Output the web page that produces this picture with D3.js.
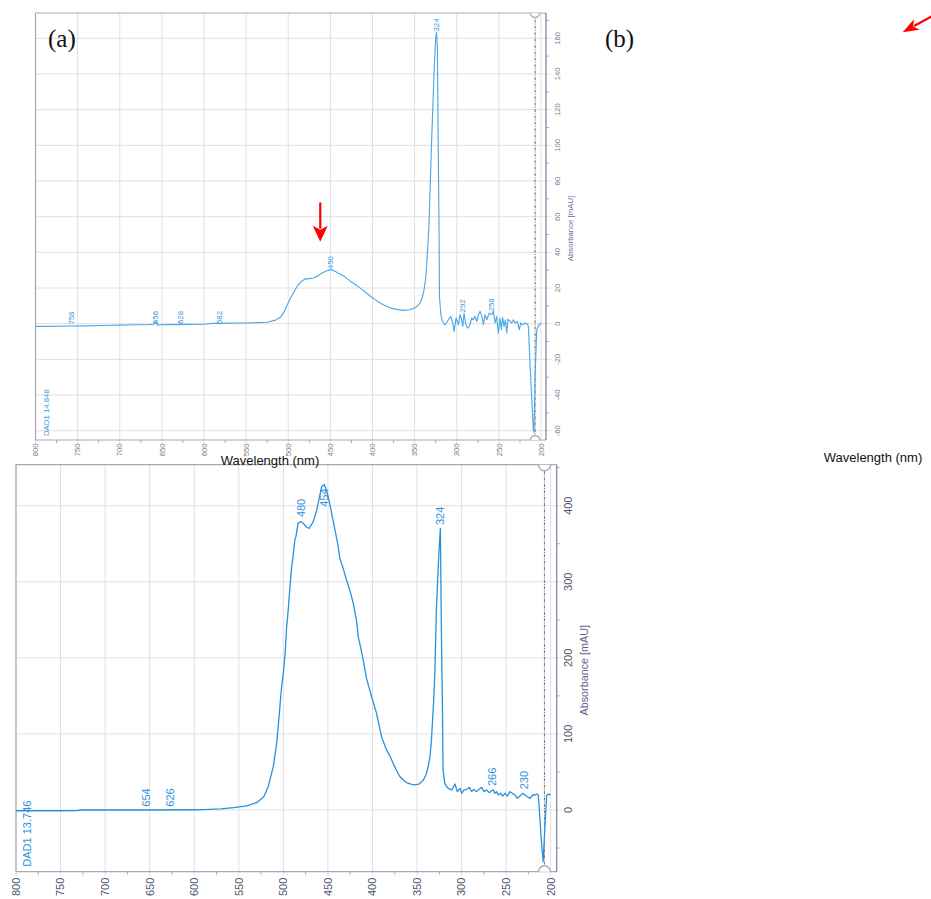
<!DOCTYPE html>
<html>
<head>
<meta charset="utf-8">
<script src="https://cdn.jsdelivr.net/npm/d3@7"></script>
<style>
body { margin: 0; background: #fff; }
svg text { font-family: Arial, "Liberation Sans", sans-serif; }
svg text.letter { font-family: "Liberation Serif", "Times New Roman", serif; }
</style>
</head>
<body>
<svg id="chart" width="931" height="899"></svg>
<script>
// ---- panel (a) : DAD1 14.848 ----
var wlA = [800,780,760,740,720,700,680,665,660,657,655,652,640,620,600,590,570,550,535,525,
  515,509,505,501,497,493,489,485,480,475,470,465,460,455,450,445,440,433,426,420,
  414,408,402,396,390,384,378,370,363,356,351,347,344,341,339,337,335.5,333,330,327,
  325,324,323,322,321,320.5,319,318,316,
  313.8,309.9,307.1,304.7,303.2,300.8,298.0,296.1,294.1,292.9,291.3,289.7,287.4,285.0,282.2,280.3,278.3,276.3,274.3,272.3,
  270.0,268.4,266.4,264.4,261.3,258.5,256.5,254.5,252.6,250.6,248.6,247.0,245.5,243.9,242.3,240.7,239.1,236.8,234.8,232.8,
  230.8,228.1,225.7,224.1,221.7,219.0,216.2,215.0,213.1,211.1,209.1,208.3,207.1,205.1,202.0,199.2];
var absA = [-1.5,-1.5,-1.3,-1.2,-1.0,-0.8,-0.6,-0.5,-0.3,1.0,-0.8,-0.6,-0.5,-0.4,-0.3,0.2,0.3,0.4,0.6,0.8,
  2.0,3.8,6.5,10.8,14.5,18.0,21.3,23.5,25.0,25.3,25.6,26.8,28.4,29.5,30.3,29.5,28.2,26.4,23.7,21.8,
  19.8,17.5,15.2,13.2,11.3,9.9,8.7,7.9,7.5,7.8,8.6,9.8,11.2,14.5,18.5,25,34,55,100,140,
  160,163.5,155,100,52,15,6,3,0.5,
  -0.6,2.2,4.1,0.4,-4.3,3.2,-0.6,5.0,2.2,-1.5,6.0,0.4,-2.4,-1.5,3.2,2.2,4.1,1.3,5.0,6.9,
  4.1,-0.6,5.0,2.2,6.0,5.0,6.9,0.4,4.1,-5.2,3.2,-3.4,3.6,-1.5,2.2,-5.2,2.6,1.3,0.4,2.2,
  0.4,1.3,-3.4,0.4,-0.6,0.4,0.0,-1.5,-22,-41,-59,-61,-31,-3.4,-0.5,0.4];
var peakTextA = ["758","656","628","582","450","324","292","258"];
var peakWlA = [758, 657.5, 628, 582, 450, 324.5, 294, 258.5];
var peakLevelA = [-0.5, -0.2, -0.2, -0.2, 30.6, 163.8, 6.3, 6.9];
var yTicksA = [-60,-40,-20,0,20,40,60,80,100,120,140,160];

// ---- panel (b) : DAD1 13.746 ----
var wlB = [800,760,730,729,700,650,600,590,570,556,541,530,522,517,511.3,507.5,504.5,502,500,498,
  496.3,494.5,492.6,490.7,489.6,487.1,485.8,483.4,480,477,474,471,466.5,463,461,457,454,451,448,445,
  442,439,436.6,433,429,425,421.6,418,416,413,410.4,406.7,401,395.4,389.8,384.2,380,376.7,373,369.3,
  365,361.8,357,352.4,348,343.1,340,337.5,335.5,333.8,331.3,330,328.3,325.3,323.8,322.7,322,321.6,320.8,319,
  317.1,
  314.9,311.1,307.4,304.8,301.8,299.9,297.3,294.3,291.3,288.7,286.1,283.8,281.2,277.5,274.9,271.9,268.9,266.3,264.4,262.5,
  260.6,258.8,256.2,253.9,251.3,248.7,245.7,243.1,240.1,237.5,234.5,231.5,228.9,226.2,223.3,220.2,217.6,215.8,213.9,212.0,
  210.5,208.5,206.4,204.5,202.3,200.1];
var absB = [-1,-1,-0.8,0,0,0,0.3,0.6,1.5,3,5.3,9.6,17.5,30.7,57,87.6,127,162,180,206,
  241,263,293,320,328,355,360,377,379,376,372,370,379,392,403,425,428,418,403,385,
  368,350,331,318,302,287,272,250,228,212,197,173,149,127,96,79,70,61,52,44,
  39,36,34,33,34,39,46,57,70,92,144,180,263,342,370,241,175,149,53,36,
  31,
  28.5,26.3,34.2,24.1,28.5,21.9,26.3,27.2,29.8,24.1,27.2,24.1,26.3,29.8,24.1,26.3,22.8,25.4,26.3,21.9,
  24.1,19.7,21.9,18.4,21.9,18.4,24.1,21.9,19.7,15.3,18.4,21.9,19.7,17.5,15.3,19.7,19.7,21,19.7,-13,
  -40,-68,-20,19.3,21,20];
var peakTextB = ["654","626","480","454","324","266","230"];
var peakWlB = [654.5, 627, 480.5, 454.4, 324.2, 266.2, 229.6];
var peakLevelB = [4.3, 4.3, 385, 398.6, 374.5, 31.5, 27.2];
var yTicksB = [0,100,200,300,400];

var xTicks = [800,750,700,650,600,550,500,450,400,350,300,250,200];
var markerWl = 207;

var svg = d3.select("#chart");

var boxA = {
  id: "a", left: 35.5, right: 546, top: 13, bottom: 440,
  xRange: [35.5, 541], yDomain: [-60, 160], yRange: [430.7, 38.3],
  yMinor: 10, tickFont: 7.6, peakFont: 7.8, titleFont: 7.8,
  xLabGap: 3.5, yLabGap: 10.9, titleGap: 24.7,
  line: "#4ea8e8", lw: 1.15, r: 4.5, trace: "DAD1 14.848", traceWl: 787.2, traceLevel: -63,
  tickColor: "#7a7a84", titleColor: "#6b6f93"
};
var boxB = {
  id: "b", left: 16, right: 556.7, top: 464.7, bottom: 871.7,
  xRange: [16, 550.7], yDomain: [0, 400], yRange: [810, 505.7],
  yMinor: 50, tickFont: 11, peakFont: 11, titleFont: 10.8,
  xLabGap: 6, yLabGap: 11.3, titleGap: 27.3,
  line: "#2b90da", lw: 1.3, r: 6, trace: "DAD1 13.746", traceWl: 788, traceLevel: -74.5,
  tickColor: "#4d586b", titleColor: "#5e6490"
};

panel(boxA, wlA, absA, yTicksA, peakTextA, peakWlA, peakLevelA);
panel(boxB, wlB, absB, yTicksB, peakTextB, peakWlB, peakLevelB);

function panel(b, wl, ab, yTicks, pText, pWl, pLevel) {
  var x = d3.scaleLinear().domain([800, 200]).range(b.xRange);
  var y = d3.scaleLinear().domain(b.yDomain).range(b.yRange);
  var yLo = y.invert(b.bottom), yHi = y.invert(b.top);

  var g = svg.append("g");

  g.append("clipPath").attr("id", "clip" + b.id)
    .append("rect")
    .attr("x", b.left).attr("y", b.top)
    .attr("width", b.right - b.left).attr("height", b.bottom - b.top);

  // grid
  g.selectAll(".vg").data(xTicks).enter().append("line")
    .attr("x1", x).attr("x2", x)
    .attr("y1", b.top).attr("y2", b.bottom + 4)
    .attr("stroke", "#e0e0e4").attr("stroke-width", 1);
  g.selectAll(".hg").data(yTicks).enter().append("line")
    .attr("x1", b.left).attr("x2", b.right + 5)
    .attr("y1", y).attr("y2", y)
    .attr("stroke", "#e0e0e4").attr("stroke-width", 1);

  // minor ticks
  var xMinor = d3.range(775, 199, -50);
  g.selectAll(".xm").data(xMinor).enter().append("line")
    .attr("x1", x).attr("x2", x)
    .attr("y1", b.bottom).attr("y2", b.bottom + 3)
    .attr("stroke", "#a8abbd");
  var yMinor = d3.range(Math.ceil(yLo / b.yMinor) * b.yMinor, yHi, b.yMinor)
    .filter(function (v) { return yTicks.indexOf(v) < 0; });
  g.selectAll(".ym").data(yMinor).enter().append("line")
    .attr("x1", b.right).attr("x2", b.right + 3)
    .attr("y1", y).attr("y2", y)
    .attr("stroke", "#a8abbd");

  // frame
  g.append("path")
    .attr("d", "M" + b.right + "," + b.bottom + "H" + b.left + "V" + b.top + "H" + b.right)
    .attr("fill", "none").attr("stroke", "#a5a8bc").attr("stroke-width", 1.2);
  g.append("line")
    .attr("x1", b.right).attr("x2", b.right)
    .attr("y1", b.top).attr("y2", b.bottom)
    .attr("stroke", "#7a7f9c").attr("stroke-width", 1.2);

  // dash-dot marker line with end circles
  var mx = x(markerWl);
  g.append("line")
    .attr("x1", mx).attr("x2", mx)
    .attr("y1", b.top).attr("y2", b.bottom)
    .attr("stroke", "#77787e").attr("stroke-width", 1.1)
    .attr("stroke-dasharray", "3,1.2,1,1.2");
  g.selectAll(".mc").data([b.top, b.bottom]).enter().append("circle")
    .attr("clip-path", "url(#clip" + b.id + ")")
    .attr("cx", mx).attr("cy", function (d) { return d; })
    .attr("r", b.r)
    .attr("fill", "#fff").attr("stroke", "#a9abb5").attr("stroke-width", 1.4);

  // spectrum
  var pts = wl.map(function (w, i) { return [w, ab[i]]; });
  g.append("path")
    .datum(pts)
    .attr("clip-path", "url(#clip" + b.id + ")")
    .attr("fill", "none")
    .attr("stroke", b.line)
    .attr("stroke-width", b.lw)
    .attr("stroke-linejoin", "round")
    .attr("d", d3.line().x(function (d) { return x(d[0]); }).y(function (d) { return y(d[1]); }));

  // x tick labels
  g.selectAll(".xl").data(xTicks).enter().append("text")
    .attr("transform", function (d) { return "translate(" + x(d) + "," + (b.bottom + b.xLabGap) + ") rotate(-90)"; })
    .attr("text-anchor", "end").attr("dy", "0.35em")
    .attr("font-size", b.tickFont).attr("fill", b.tickColor)
    .text(function (d) { return d; });

  // y tick labels (right)
  g.selectAll(".yl").data(yTicks).enter().append("text")
    .attr("transform", function (d) { return "translate(" + (b.right + b.yLabGap) + "," + y(d) + ") rotate(-90)"; })
    .attr("text-anchor", "middle").attr("dy", "0.35em")
    .attr("font-size", b.tickFont).attr("fill", b.tickColor)
    .text(function (d) { return d; });

  g.append("text")
    .attr("transform", "translate(" + (b.right + b.titleGap) + "," + ((b.top + b.bottom) / 2 + 2) + ") rotate(-90)")
    .attr("text-anchor", "middle").attr("dy", "0.35em")
    .attr("font-size", b.titleFont).attr("fill", b.titleColor)
    .text("Absorbance [mAU]");

  // peak labels
  g.selectAll(".pl").data(pText).enter().append("text")
    .attr("transform", function (d, i) { return "translate(" + x(pWl[i]) + "," + y(pLevel[i]) + ") rotate(-90)"; })
    .attr("text-anchor", "start").attr("dy", "0.35em")
    .attr("font-size", b.peakFont).attr("fill", "#2f94dc")
    .text(function (d) { return d; });

  g.append("text")
    .attr("transform", "translate(" + x(b.traceWl) + "," + y(b.traceLevel) + ") rotate(-90)")
    .attr("text-anchor", "start").attr("dy", "0.35em")
    .attr("font-size", b.peakFont).attr("fill", "#2f94dc")
    .text(b.trace);

  return {x: x, y: y};
}

// axis names and panel letters
svg.append("text").attr("x", 270).attr("y", 465).attr("text-anchor", "middle")
  .attr("font-size", 13).attr("fill", "#111").text("Wavelength (nm)");
svg.append("text").attr("x", 873).attr("y", 462).attr("text-anchor", "middle")
  .attr("font-size", 13).attr("fill", "#111").text("Wavelength (nm)");
svg.selectAll(".lt").data([["(a)", 48], ["(b)", 605]]).enter().append("text")
  .attr("class", "letter")
  .attr("x", function (d) { return d[1]; }).attr("y", 47)
  .attr("font-size", 25).attr("fill", "#111")
  .text(function (d) { return d[0]; });

// red arrows
function arrow(x1, y1, x2, y2, len, w) {
  var dx = x2 - x1, dy = y2 - y1, L = Math.sqrt(dx * dx + dy * dy);
  var ux = dx / L, uy = dy / L;
  var bx = x2 - ux * len, by = y2 - uy * len;
  svg.append("line")
    .attr("x1", x1).attr("y1", y1).attr("x2", bx + ux * 3).attr("y2", by + uy * 3)
    .attr("stroke", "#f00").attr("stroke-width", 2.2);
  svg.append("path")
    .attr("d", "M" + x2 + "," + y2 +
      "L" + (bx - uy * w / 2) + "," + (by + ux * w / 2) +
      "L" + (bx + ux * 4) + "," + (by + uy * 4) +
      "L" + (bx + uy * w / 2) + "," + (by - ux * w / 2) + "Z")
    .attr("fill", "#f00");
}
var xA = d3.scaleLinear().domain([800, 200]).range(boxA.xRange);
var yA = d3.scaleLinear().domain(boxA.yDomain).range(boxA.yRange);
arrow(xA(462), yA(68), xA(462), yA(46), 16, 15);
arrow(936, 14, 902.7, 32.3, 16, 12);
</script>
</body>
</html>
